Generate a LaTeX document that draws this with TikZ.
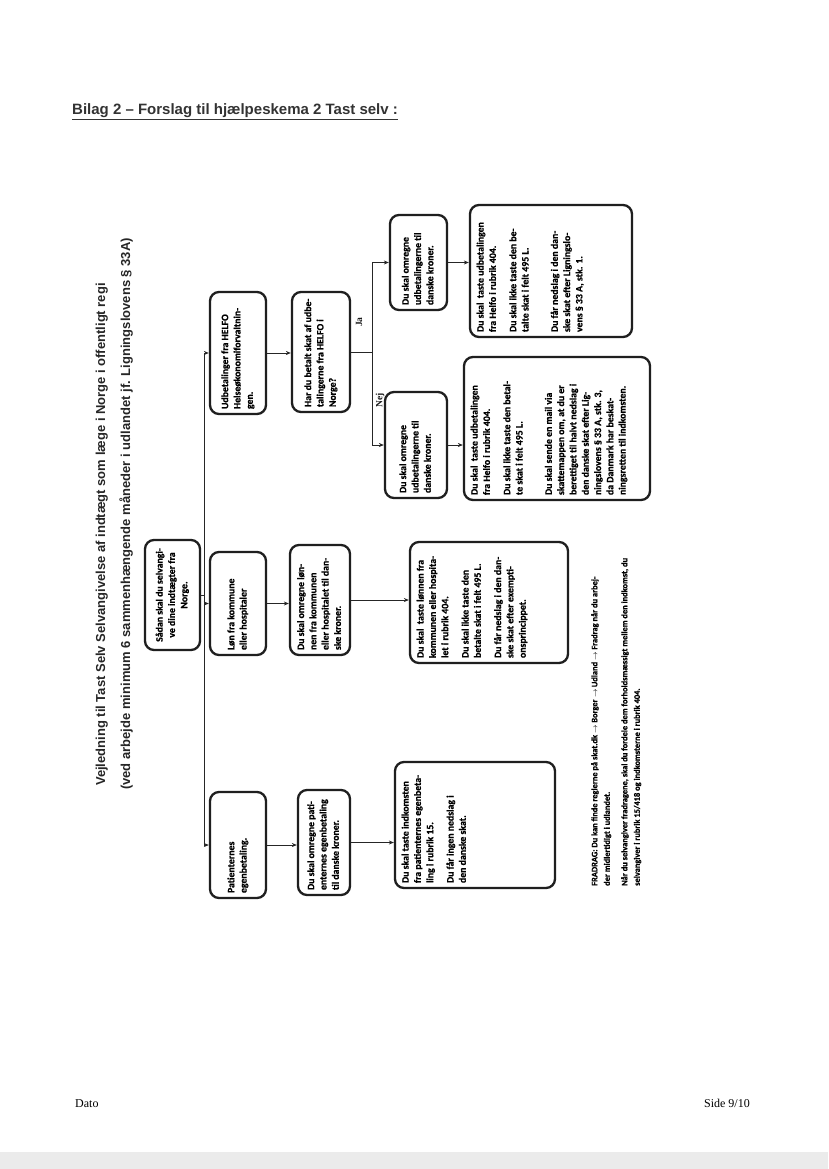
\documentclass[tikz,border=0pt]{standalone}
\usepackage{fontspec}
\setmainfont{Liberation Serif}
\newfontfamily\arialf{Liberation Sans}
\newfontfamily\calib{Carlito}[FakeBold=0.7]
\usetikzlibrary{arrows.meta}
\newcommand\tb[4]{\parbox[c][#1pt][#3]{#2pt}{\begin{tabular}[t]{@{}l@{}}#4\end{tabular}}}
\begin{document}
\begin{tikzpicture}[x=1pt,y=-1pt,
  box/.style={draw=black!88, line width=2.3pt, rounded corners=9pt, rotate=90, inner sep=5pt,
    font=\calib\bfseries\fontsize{9.8}{12.3}\selectfont, text=black},
  arr/.style={line width=0.9pt, draw=black!85, -{Stealth[length=5pt,width=4pt]}},
  ln/.style={line width=0.9pt, draw=black!85},
  lab/.style={rotate=90, inner sep=0, font=\bfseries\fontsize{9.5}{10}\selectfont, text=black!90},
  ttl/.style={rotate=90, anchor=base west, inner sep=0, font=\arialf\bfseries\fontsize{13}{15}\selectfont, text=black!85}]
\useasboundingbox (0,0) rectangle (828,1169);
\fill[white] (0,0) rectangle (828,1169);
\fill[black!8] (0,1152) rectangle (828,1169);

% header
\node[anchor=base west, inner sep=0, font=\arialf\bfseries\fontsize{15}{18}\selectfont, text=black!80] (bilag) at (72,115)
  {\underline{Bilag 2 – Forslag til hjælpeskema 2 Tast selv :}};

% rotated title
\node[ttl] (t1) at (105,786) {Vejledning til Tast Selv Selvangivelse af indtægt som læge i Norge i offentligt regi};
\node[ttl] (t2) at (130,790) {(ved arbejde minimum 6 sammenhængende måneder i udlandet jf. Ligningslovens § 33A)};

% row 0
\node[box] (S) at (172.5,595) {\parbox[c][45pt][c]{100pt}{\centering\begin{tabular}{@{}c@{}}Sådan skal du selvangi-\\ve dine indtægter fra\\Norge.\end{tabular}}};

% row 1
\node[box] (A1) at (238,845) {\tb{46}{96}{c}{Patienternes\\egenbetaling.}};
\node[box] (B1) at (238,603.5) {\tb{46}{93}{c}{Løn fra kommune\\eller hospitaler}};
\node[box] (C1) at (238,353) {\tb{46}{112}{c}{Udbetalinger fra HELFO\\Helseøkonomiforvaltnin-\\gen.}};

% row 2
\node[box] (A2) at (324,842.5) {\tb{42}{95}{c}{Du skal omregne pati-\\enternes egenbetaling\\til danske kroner.}};
\node[box] (B2) at (320,600) {\tb{50}{100}{c}{Du skal omregne løn-\\nen fra kommunen\\eller hospitalet til dan-\\ske kroner.}};
\node[box] (C2) at (321,352) {\tb{48}{110}{c}{Har du betalt skat af udbe-\\talingerne fra HELFO i\\Norge?}};

% row 3
\node[box] (A3) at (475,825) {\tb{150}{116}{t}{Du skal taste indkomsten\\fra patienternes egenbeta-\\ling i rubrik 15.\\[8pt]Du får ingen nedslag i\\den danske skat.}};
\node[box] (B3) at (489,602.5) {\tb{148}{111}{t}{Du skal \ taste lønnen fra\\kommunen eller hospita-\\let i rubrik 404.\\[8pt]Du skal ikke taste den\\betalte skat i felt 495 L.\\[8pt]Du får nedslag i den dan-\\ske skat efter exempti-\\onsprincippet.}};
\node[box] (C3a) at (416,445) {\tb{52}{96}{c}{Du skal omregne\\udbetalingerne til\\danske kroner.}};
\node[box] (C3b) at (418.5,262.5) {\tb{47}{85}{c}{Du skal omregne\\udbetalingerne til\\danske kroner.}};

% row 4
\node[box] (C4a) at (557,428.5) {\tb{176}{133}{t}{Du skal \ taste udbetalingen\\fra Helfo i rubrik 404.\\[8pt]Du skal ikke taste den betal-\\te skat i felt 495 L.\\[17pt]Du skal sende en mail via\\skattemappen om, at du er\\berettiget til halvt nedslag i\\den danske skat efter Lig-\\ningslovens § 33 A, stk. 3,\\da Danmark har beskat-\\ningsretten til indkomsten.}};
\node[box] (C4b) at (551,271) {\tb{152}{122}{t}{Du skal \ taste udbetalingen\\fra Helfo i rubrik 404.\\[8pt]Du skal ikke taste den be-\\talte skat i felt 495 L.\\[17pt]Du får nedslag i den dan-\\ske skat efter Ligningslo-\\vens § 33 A, stk. 1.}};

% labels
\node[lab] (ja) at (359,322) {Ja};
\node[lab] (nej) at (380,400) {Nej};

% connectors
\coordinate (T) at (204,0);
\coordinate (J) at (372,0);
\draw[ln] (T |- C1) -- (T |- A1);
\draw[ln] (S.south) -- (S.south -| T);
\draw[arr] (T |- C1) -- (C1.north);
\draw[arr] (T |- B1) -- (B1.north);
\draw[arr] (T |- A1) -- (A1.north);
\draw[arr] (A1.south) -- (A1.south -| A2.north);
\draw[arr] (B1.south) -- (B1.south -| B2.north);
\draw[arr] (C1.south) -- (C1.south -| C2.north);
\draw[arr] (A2.south) -- (A2.south -| A3.north);
\draw[arr] (B2.south) -- (B2.south -| B3.north);
\draw[ln] (C2.south) -- (C2.south -| J);
\draw[ln] (J |- C3b) -- (J |- C3a);
\draw[arr] (J |- C3b) -- (C3b.north);
\draw[arr] (J |- C3a) -- (C3a.north);
\draw[arr] (C3a.south) -- (C3a.south -| C4a.north);
\draw[arr] (C3b.south) -- (C3b.south -| C4b.north);

% note
\node[rotate=90, anchor=north west, inner sep=0, align=left, text=black,
  font=\calib\bfseries\fontsize{8.4}{12.5}\selectfont] (note) at (591,886)
  {FRADRAG: Du kan finde reglerne på skat.dk $\rightarrow$ Borger $\rightarrow$ Udland $\rightarrow$ Fradrag når du arbej-\\
   der midlertidigt i udlandet.\\[5pt]
   Når du selvangiver fradragene, skal du fordele dem forholdsmæssigt mellem den indkomst, du\\
   selvangiver i rubrik 15/418 og indkomsterne i rubrik 404.};

% footer
\node[anchor=base west, inner sep=0, font=\fontsize{12}{14}\selectfont] (dato) at (75,1107) {Dato};
\node[anchor=base east, inner sep=0, font=\fontsize{12}{14}\selectfont] (side) at (750,1107) {Side 9/10};
\end{tikzpicture}
\end{document}
